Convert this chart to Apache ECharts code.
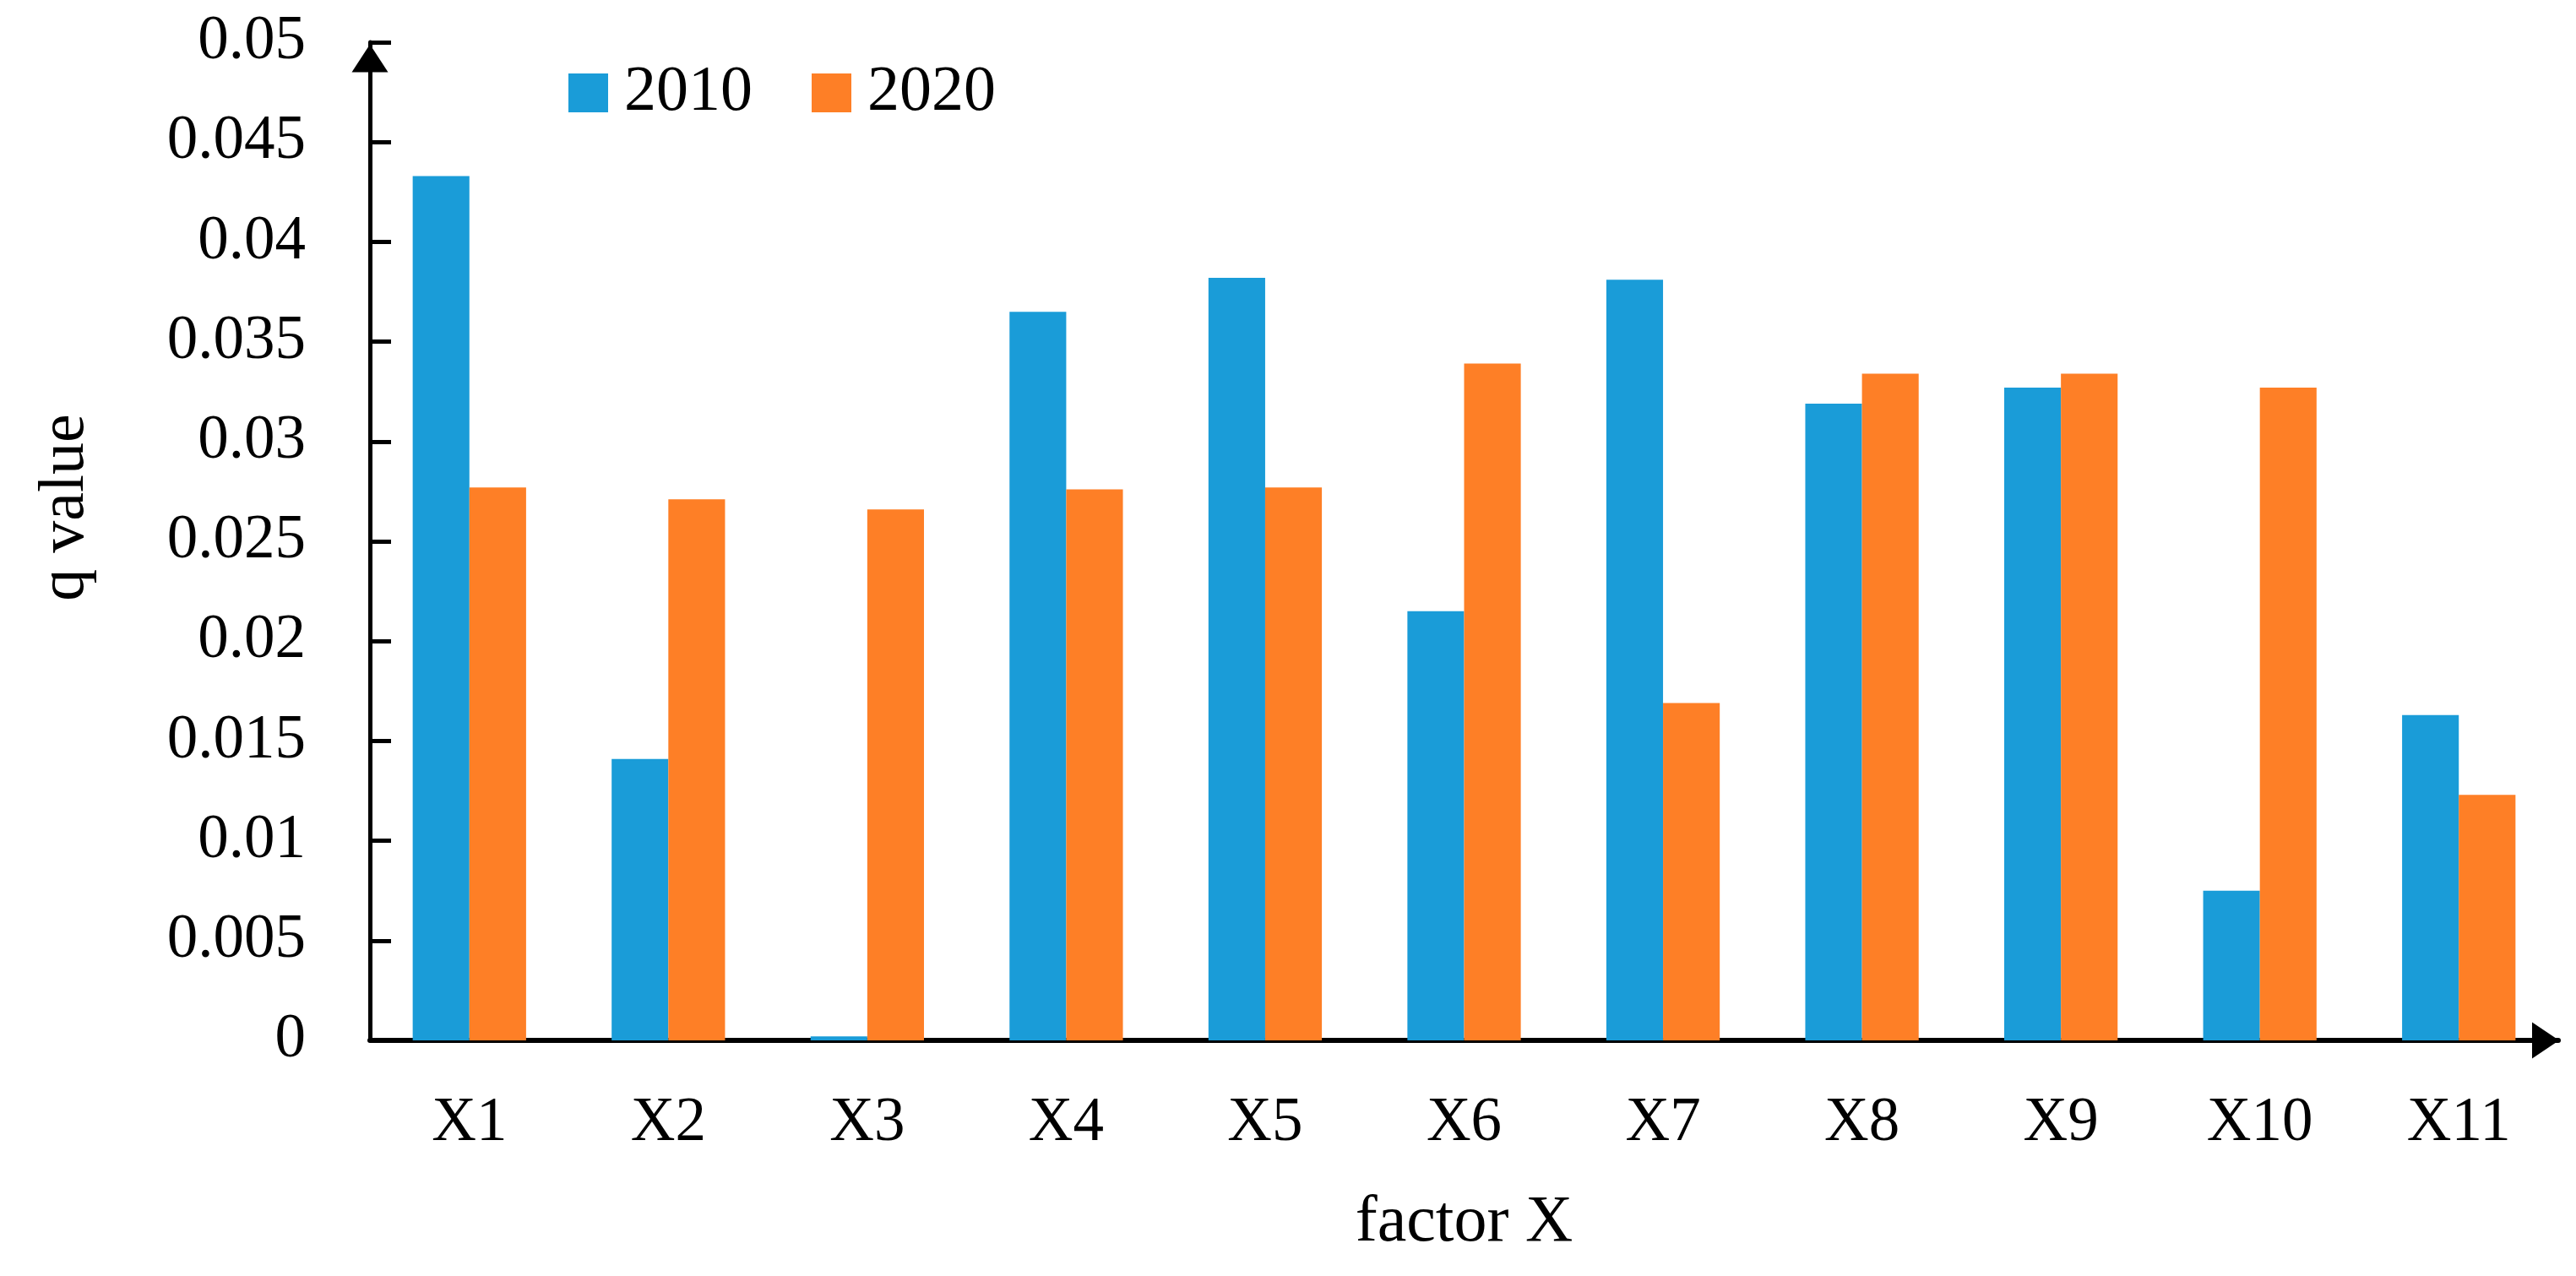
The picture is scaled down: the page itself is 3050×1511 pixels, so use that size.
<!DOCTYPE html>
<html>
<head>
<meta charset="utf-8">
<script src="https://cdn.jsdelivr.net/npm/echarts@6/dist/echarts.min.js"></script>
<style>
html,body{margin:0;padding:0;background:#fff;}
#chart{width:3050px;height:1511px;}
</style>
</head>
<body>
<div id="chart"></div>
<script>
const categories = ['X1','X2','X3','X4','X5','X6','X7','X8','X9','X10','X11'];
const seriesNames = ['2010','2020'];
const values2010 = [0.0433, 0.0141, 0.0002, 0.0365, 0.0382, 0.0215, 0.0381, 0.0319, 0.0327, 0.0075, 0.0163];
const values2020 = [0.0277, 0.0271, 0.0266, 0.0276, 0.0277, 0.0339, 0.0169, 0.0334, 0.0334, 0.0327, 0.0123];
const yMin = 0, yMax = 0.05, yInterval = 0.005;
const xAxisTitle = 'factor X';
const yAxisTitle = 'q value';

const FONT = '"Liberation Serif", "DejaVu Serif", serif';
const chart = echarts.init(document.getElementById('chart'), null, {renderer: 'canvas'});
chart.setOption({
  backgroundColor: '#ffffff',
  animation: false,
  color: ['#1a9cd8', '#fe7f26'],
  textStyle: {fontFamily: FONT, color: '#000'},
  legend: {
    left: 668,
    top: 67,
    itemWidth: 47,
    itemHeight: 46,
    itemGap: 70,
    icon: 'rect',
    textStyle: {fontFamily: FONT, fontSize: 76, color: '#000', padding: [0, 0, 0, 14]},
    data: seriesNames
  },
  grid: {
    left: 438, right: 21, top: 50, bottom: 279,
    containLabel: false,
    outerBoundsMode: 'none'
  },
  xAxis: {
    type: 'category',
    data: categories,
    boundaryGap: true,
    name: xAxisTitle,
    nameLocation: 'middle',
    nameGap: 178,
    nameTextStyle: {fontFamily: FONT, fontSize: 78, color: '#000'},
    axisLine: {
      show: true,
      lineStyle: {color: '#000', width: 6},
      symbol: ['none', 'triangle'],
      symbolSize: [43, 32],
      symbolOffset: [0, -15]
    },
    axisTick: {show: false},
    axisLabel: {fontFamily: FONT, fontSize: 73, color: '#000', margin: 62},
    splitLine: {show: false}
  },
  yAxis: {
    type: 'value',
    min: yMin, max: yMax, interval: yInterval,
    name: yAxisTitle,
    nameLocation: 'middle',
    nameGap: 322,
    nameRotate: 90,
    nameTextStyle: {fontFamily: FONT, fontSize: 76, color: '#000', padding: [0, 0, 0, 80]},
    axisLine: {
      show: true,
      lineStyle: {color: '#000', width: 5},
      symbol: ['none', 'triangle'],
      symbolSize: [43, 33],
      symbolOffset: [0, -19]
    },
    axisTick: {show: true, inside: true, length: 25, lineStyle: {color: '#000', width: 5}},
    axisLabel: {fontFamily: FONT, fontSize: 73, color: '#000', margin: 76},
    splitLine: {show: false}
  },
  series: [
    {name: seriesNames[0], type: 'bar', data: values2010, barGap: '0%', barCategoryGap: '43%'},
    {name: seriesNames[1], type: 'bar', data: values2020, barGap: '0%', barCategoryGap: '43%'}
  ]
});
</script>
</body>
</html>
